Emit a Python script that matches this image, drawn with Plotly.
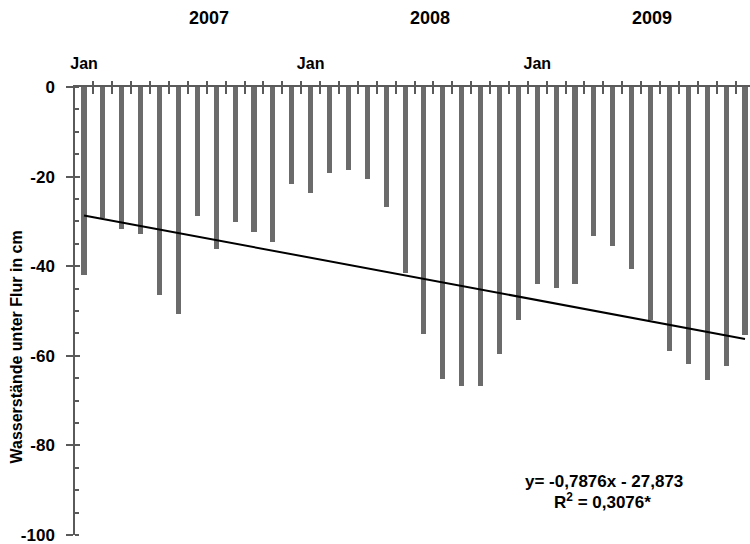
import plotly.graph_objects as go

# Monthly values Jan 2007 .. Dec 2009 (cm below ground surface, negative)
months = list(range(1, 37))
water_levels = [
    -42.0, -29.3, -31.7, -32.9, -46.4, -50.7, -28.8, -36.2, -30.1, -32.4, -34.6, -21.7,
    -23.6, -19.3, -18.5, -20.5, -26.8, -41.6, -55.1, -65.1, -66.7, -66.7, -59.6, -51.9,
    -43.9, -44.9, -43.9, -33.3, -35.6, -40.7, -52.0, -58.9, -61.9, -65.4, -62.2, -55.4,
]
jan_positions = [1, 13, 25]
jan_labels = ["Jan", "Jan", "Jan"]
year_labels = ["2007", "2008", "2009"]
year_positions = [7.6, 19.3, 31.1]
slope = -0.7876
intercept = -27.873
equation_text = "y= -0,7876x - 27,873"
r2_text = "R<sup>2</sup> = 0,3076*"
y_ticks = [0, -20, -40, -60, -80, -100]
y_ticklabels = ["0", "-20", "-40", "-60", "-80", "-100"]

trend_x = [months[0], months[-1]]
trend_y = [slope * x + intercept for x in trend_x]

FONT = "Liberation Sans, Arial, sans-serif"
AX = "#5a5a5a"
xr = [0.523, 36.265]
yr = [-100, 0]
boundaries = [m + 0.5 for m in months[:-1]]

# plot area in page px: x 75..750, y 87..535
fig = go.Figure()
fig.add_trace(go.Bar(
    x=months, y=water_levels, width=0.27,
    marker=dict(color="#6b6b6b", line=dict(width=0)),
    xaxis="x", yaxis="y", showlegend=False,
))
fig.add_trace(go.Scatter(
    x=trend_x, y=trend_y, mode="lines",
    line=dict(color="black", width=2),
    xaxis="x2", yaxis="y2", showlegend=False,
))

fig.update_layout(
    width=750, height=544,
    margin=dict(l=75, r=0, t=87, b=9),
    paper_bgcolor="white", plot_bgcolor="white",
    font=dict(family=FONT, size=16, color="black", weight="bold"),
    bargap=0,
    xaxis=dict(
        side="top", anchor="y", range=xr, showgrid=False, zeroline=False,
        showline=True, linecolor=AX, linewidth=1.5,
        tickmode="array", tickvals=jan_positions, ticktext=jan_labels,
        ticks="outside", ticklen=10, tickcolor="rgba(0,0,0,0)",
        ticklabeloverflow="allow",
        tickfont=dict(size=16, family=FONT, weight="bold"),
        minor=dict(tickmode="array", tickvals=boundaries, ticks="outside",
                   ticklen=4, tickcolor=AX, tickwidth=1.5, showgrid=False),
    ),
    xaxis2=dict(
        side="top", anchor="y", overlaying="x", range=xr, showgrid=False,
        zeroline=False, showline=False, showticklabels=False,
        tickmode="array", tickvals=boundaries, ticks="inside", ticklen=7,
        tickcolor=AX, tickwidth=1.5,
    ),
    yaxis=dict(
        range=yr, anchor="x", showgrid=False, zeroline=False,
        showline=True, linecolor=AX, linewidth=1.5,
        tickmode="array", tickvals=y_ticks, ticktext=y_ticklabels,
        ticks="outside", ticklen=7, ticklabeloverflow="allow",
        tickcolor=AX, tickwidth=1.5, ticklabelstandoff=8,
        tickfont=dict(size=17, family=FONT, weight="bold"),
        minor=dict(dtick=5, tick0=0, ticks="inside", ticklen=4,
                   tickcolor=AX, tickwidth=1.5, showgrid=False),
    ),
    yaxis2=dict(
        range=yr, anchor="x", overlaying="y", showgrid=False, zeroline=False,
        showline=False, showticklabels=False,
        tickmode="array", tickvals=y_ticks, ticks="inside", ticklen=5,
        tickcolor=AX, tickwidth=1.5,
    ),
)

def py(p):
    return (535 - p) / 448.0

def px(p):
    return (p - 75) / 675.0

for lab, pos in zip(year_labels, year_positions):
    fig.add_annotation(x=pos, xref="x", y=py(18), yref="paper",
                       xanchor="center", yanchor="middle",
                       text=lab, showarrow=False,
                       font=dict(size=18, family=FONT, weight="bold"))

fig.add_annotation(x=px(16), xref="paper", y=py(347.5), yref="paper",
                   xanchor="center", yanchor="middle",
                   text="Wasserstände unter Flur in cm",
                   textangle=-90, showarrow=False,
                   font=dict(size=16, family=FONT, weight="bold"))

fig.add_annotation(x=px(604), xref="paper", y=py(481), yref="paper",
                   xanchor="center", yanchor="middle",
                   text=equation_text, showarrow=False,
                   font=dict(size=17, family=FONT, weight="bold"))
fig.add_annotation(x=px(602), xref="paper", y=py(501), yref="paper",
                   xanchor="center", yanchor="middle",
                   text=r2_text, showarrow=False,
                   font=dict(size=17, family=FONT, weight="bold"))

fig.write_html(
    "out.html",
    config={"displayModeBar": False},
    post_script="document.body.style.margin='0px';document.body.style.overflow='hidden';",
)
